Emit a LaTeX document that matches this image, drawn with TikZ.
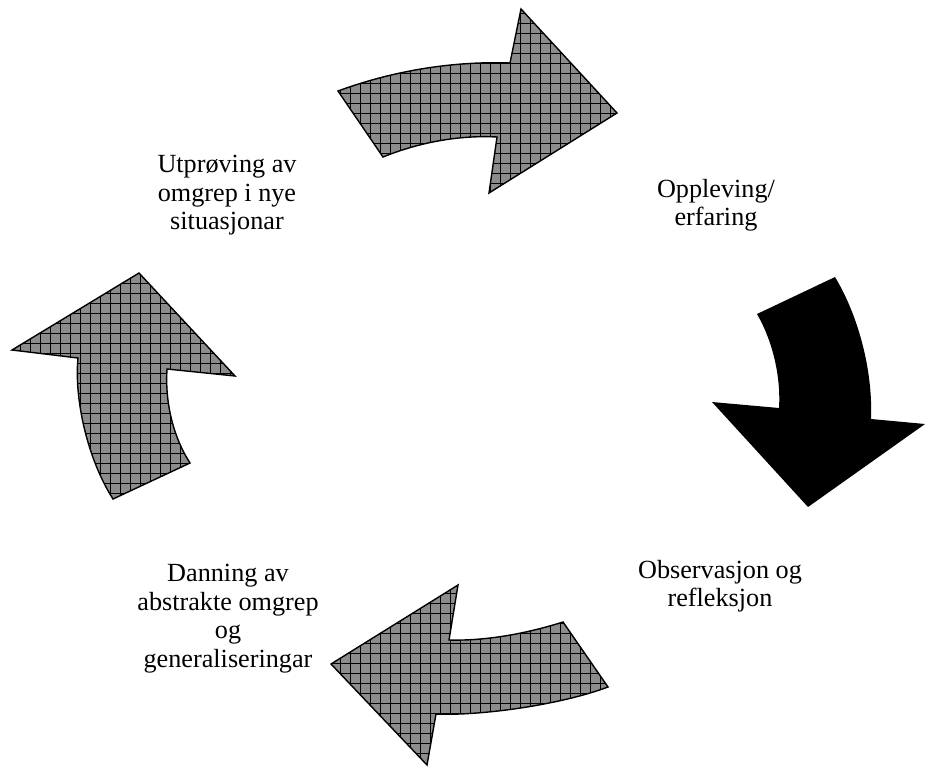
\documentclass[tikz,border=0pt]{standalone}
\usepackage{fontspec}
\setmainfont{Liberation Serif}
\definecolor{hatchgray}{RGB}{140,140,140}
\tikzset{
  outlinepath/.style={draw=black,line width=1.4pt,line join=miter},
  lbl/.style={anchor=north,align=center,inner sep=0pt,font=\fontsize{26.2}{28.5}\selectfont}
}
\newcommand{\hatchfill}[1]{%
  \begin{scope}
    \clip #1;
    \fill[hatchgray] (0,0) rectangle (925,766);
    \foreach \gx in {0,10,...,920} {\draw[black,line width=0.6pt] (\gx,0) -- (\gx,766);}
    \foreach \gy in {3,13,...,763} {\draw[black,line width=0.6pt] (0,\gy) -- (925,\gy);}
  \end{scope}
  \draw[outlinepath] #1;
}
\begin{document}
\begin{tikzpicture}[x=1pt,y=-1pt]
\useasboundingbox (0,0) rectangle (925,766);
% top arrow
\hatchfill{(338,91) .. controls (395,70) and (455,61) .. (510,63) -- (521,9) -- (617,113) -- (489,193) -- (497,137) .. controls (460,135) and (420,142) .. (383,157) -- cycle}
% right black arrow
\fill[black] (835,277) .. controls (858,315) and (873,370) .. (871,419) -- (925,424) -- (808,507) -- (712,402) -- (779,408) .. controls (781,375) and (772,340) .. (757,314) -- cycle;
% bottom arrow
\hatchfill{(563,622) .. controls (525,634) and (485,641) .. (449,640) -- (458,585) -- (331,664) -- (427,765) -- (436,714) .. controls (480,716) and (560,705) .. (608,687) -- cycle}
% left arrow
\hatchfill{(139,273) -- (235,376) -- (167,369) .. controls (165,400) and (172,435) .. (190,463) -- (113,499) .. controls (88,460) and (74,400) .. (78,358) -- (12,350) -- cycle}
% labels
\node[lbl] (t1) at (227,155) {Utprøving av\\omgrep i nye\\situasjonar};
\node[lbl] (t2) at (716,179) {Oppleving/\\erfaring};
\node[lbl] (t3) at (720,560) {Observasjon og\\refleksjon};
\node[lbl] (t4) at (228,564) {Danning av\\abstrakte omgrep\\og\\generaliseringar};
\end{tikzpicture}
\end{document}
